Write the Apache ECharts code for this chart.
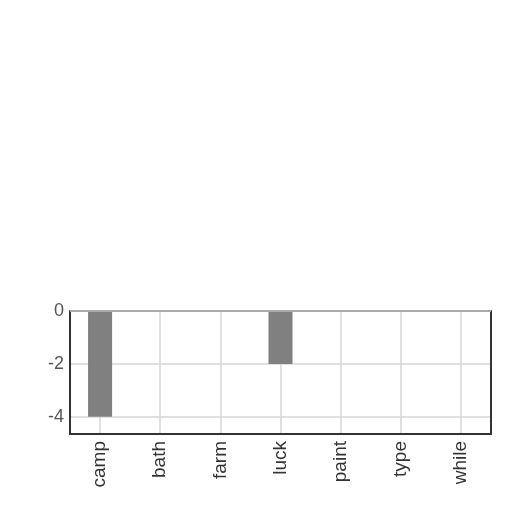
<!DOCTYPE html>
<html>
<head>
<meta charset="utf-8">
<script src="https://cdn.jsdelivr.net/npm/echarts@6/dist/echarts.min.js"></script>
<style>
  html, body { margin: 0; padding: 0; background: #fff; }
  #main { width: 512px; height: 512px; }
</style>
</head>
<body>
<div id="main"></div>
<script type="text/javascript">
// data
var categories = ['camp', 'bath', 'farm', 'luck', 'paint', 'type', 'while'];
var values = [-4, 0, 0, -2, 0, 0, 0];
var yMin = -4.65;
var yMax = 0;

var myChart = echarts.init(document.getElementById('main'));
var option = {
    animation: false,
    grid: { left: 70, right: 21, top: 311, bottom: 78 },
    xAxis: {
        type: 'category',
        data: categories,
        axisLine: { show: true, onZero: false, lineStyle: { color: '#333', width: 2 } },
        axisTick: { show: false },
        splitLine: { show: true, alignWithLabel: true, lineStyle: { color: '#d6d6d6', width: 1.5 } },
        axisLabel: {
            rotate: 90,
            interval: 0,
            margin: 7,
            color: '#333',
            fontSize: 19,
            fontFamily: 'Liberation Sans'
        }
    },
    yAxis: [
        {
            type: 'value',
            min: yMin,
            max: yMax,
            splitNumber: 2,
            axisLine: { show: true, lineStyle: { color: '#333', width: 2 } },
            axisTick: { show: false },
            splitLine: { show: true, lineStyle: { color: '#d6d6d6', width: 1.5 } },
            axisLabel: {
                showMinLabel: false,
                margin: 6,
                color: '#555',
                fontSize: 18,
                fontFamily: 'Liberation Sans'
            }
        },
        {
            type: 'value',
            position: 'right',
            min: yMin,
            max: yMax,
            axisLine: { show: true, lineStyle: { color: '#333', width: 2 } },
            axisTick: { show: false },
            axisLabel: { show: false },
            splitLine: { show: false }
        }
    ],
    series: [
        {
            type: 'bar',
            data: values,
            barWidth: '40%',
            itemStyle: { color: '#808080' },
            markLine: {
                silent: true,
                symbol: 'none',
                label: { show: false },
                lineStyle: { color: '#aaa', width: 2, type: 'solid' },
                data: [{ yAxis: 0 }]
            }
        }
    ]
};
myChart.setOption(option);
</script>
</body>
</html>
